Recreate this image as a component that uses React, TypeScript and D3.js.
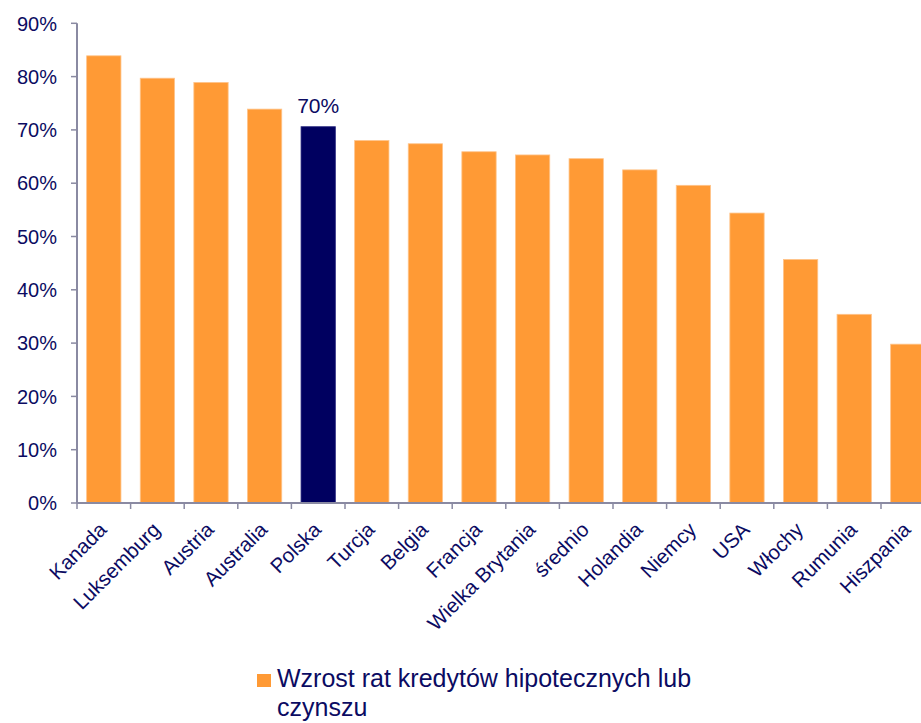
import * as d3 from 'd3';
import React from 'react';

const categories = [
    'Kanada', 'Luksemburg', 'Austria', 'Australia', 'Polska', 'Turcja', 'Belgia', 'Francja',
    'Wielka Brytania', 'średnio', 'Holandia', 'Niemcy', 'USA', 'Włochy', 'Rumunia', 'Hiszpania',
];
const values = [
    0.839, 0.797, 0.789, 0.739, 0.706, 0.680, 0.674, 0.659,
    0.653, 0.646, 0.625, 0.596, 0.544, 0.457, 0.354, 0.298,
];
const highlighted = 'Polska';
const highlightLabel = '70%';
const yTicks = [0, 0.1, 0.2, 0.3, 0.4, 0.5, 0.6, 0.7, 0.8, 0.9];
const legendLines = ['Wzrost rat kredytów hipotecznych lub', 'czynszu'];

const W = 921;
const H = 723;
const TEXT = '#0b0b62';
const AXIS = '#8a8aa2';
const ORANGE = '#ff9a35';
const NAVY = '#000060';
const FONT = '"Liberation Sans", Arial, sans-serif';

export default function App() {
    const left = 77;
    const top = 23.3;
    const bottom = 503;
    const step = 53.6;

    const x = d3
        .scaleBand<string>()
        .domain(categories)
        .range([left, left + step * categories.length])
        .paddingInner(0.36)
        .paddingOuter(0.18);

    const y = d3.scaleLinear().domain([0, 0.9]).range([bottom, top]);
    const fmt = d3.format('.0%');

    const x0 = x.range()[0];
    const boundaries = d3.range(categories.length + 1).map((i) => x0 + i * x.step());
    const hi = categories.indexOf(highlighted);

    return (
        <svg
            width={W}
            height={H}
            style={{ position: 'absolute', left: 0, top: 0, display: 'block', background: '#fff' }}
            fontFamily={FONT}
        >
            {/* bars */}
            {categories.map((c, i) => (
                <rect
                    key={c}
                    x={x(c)}
                    y={y(values[i])}
                    width={x.bandwidth()}
                    height={y(0) - y(values[i])}
                    fill={c === highlighted ? NAVY : ORANGE}
                    stroke={c === highlighted ? '#2a2a80' : '#ffc48a'}
                    strokeWidth={0.8}
                />
            ))}

            {/* y axis */}
            <line x1={left} x2={left} y1={y(0.9)} y2={y(0)} stroke={AXIS} strokeWidth={2} />
            {yTicks.map((t) => (
                <g key={t}>
                    <line x1={left - 6} x2={left} y1={y(t)} y2={y(t)} stroke={AXIS} strokeWidth={1.5} />
                    <text
                        x={57}
                        y={y(t)}
                        dy="0.36em"
                        textAnchor="end"
                        fontSize={20}
                        fill={TEXT}
                    >
                        {fmt(t)}
                    </text>
                </g>
            ))}

            {/* x axis */}
            <line x1={left} x2={W} y1={y(0)} y2={y(0)} stroke={AXIS} strokeWidth={2} />
            {boundaries.map((b, i) => (
                <line key={i} x1={b} x2={b} y1={y(0)} y2={y(0) + 6} stroke={AXIS} strokeWidth={1.5} />
            ))}
            {categories.map((c) => {
                const cx = (x(c) ?? 0) + x.bandwidth() / 2;
                return (
                    <text
                        key={c}
                        transform={`translate(${cx + 4},${y(0) + 28}) rotate(-45)`}
                        textAnchor="end"
                        fontSize={20.5}
                        fill={TEXT}
                    >
                        {c}
                    </text>
                );
            })}

            {/* highlighted value label */}
            <text
                x={(x(highlighted) ?? 0) + x.bandwidth() / 2}
                y={y(values[hi]) - 14}
                textAnchor="middle"
                fontSize={21}
                fill={TEXT}
            >
                {highlightLabel}
            </text>

            {/* legend */}
            <rect x={257} y={674} width={14} height={13} fill={ORANGE} />
            {legendLines.map((l, i) => (
                <text key={i} x={277} y={687 + i * 29} fontSize={25} fill={TEXT}>
                    {l}
                </text>
            ))}
        </svg>
    );
}
